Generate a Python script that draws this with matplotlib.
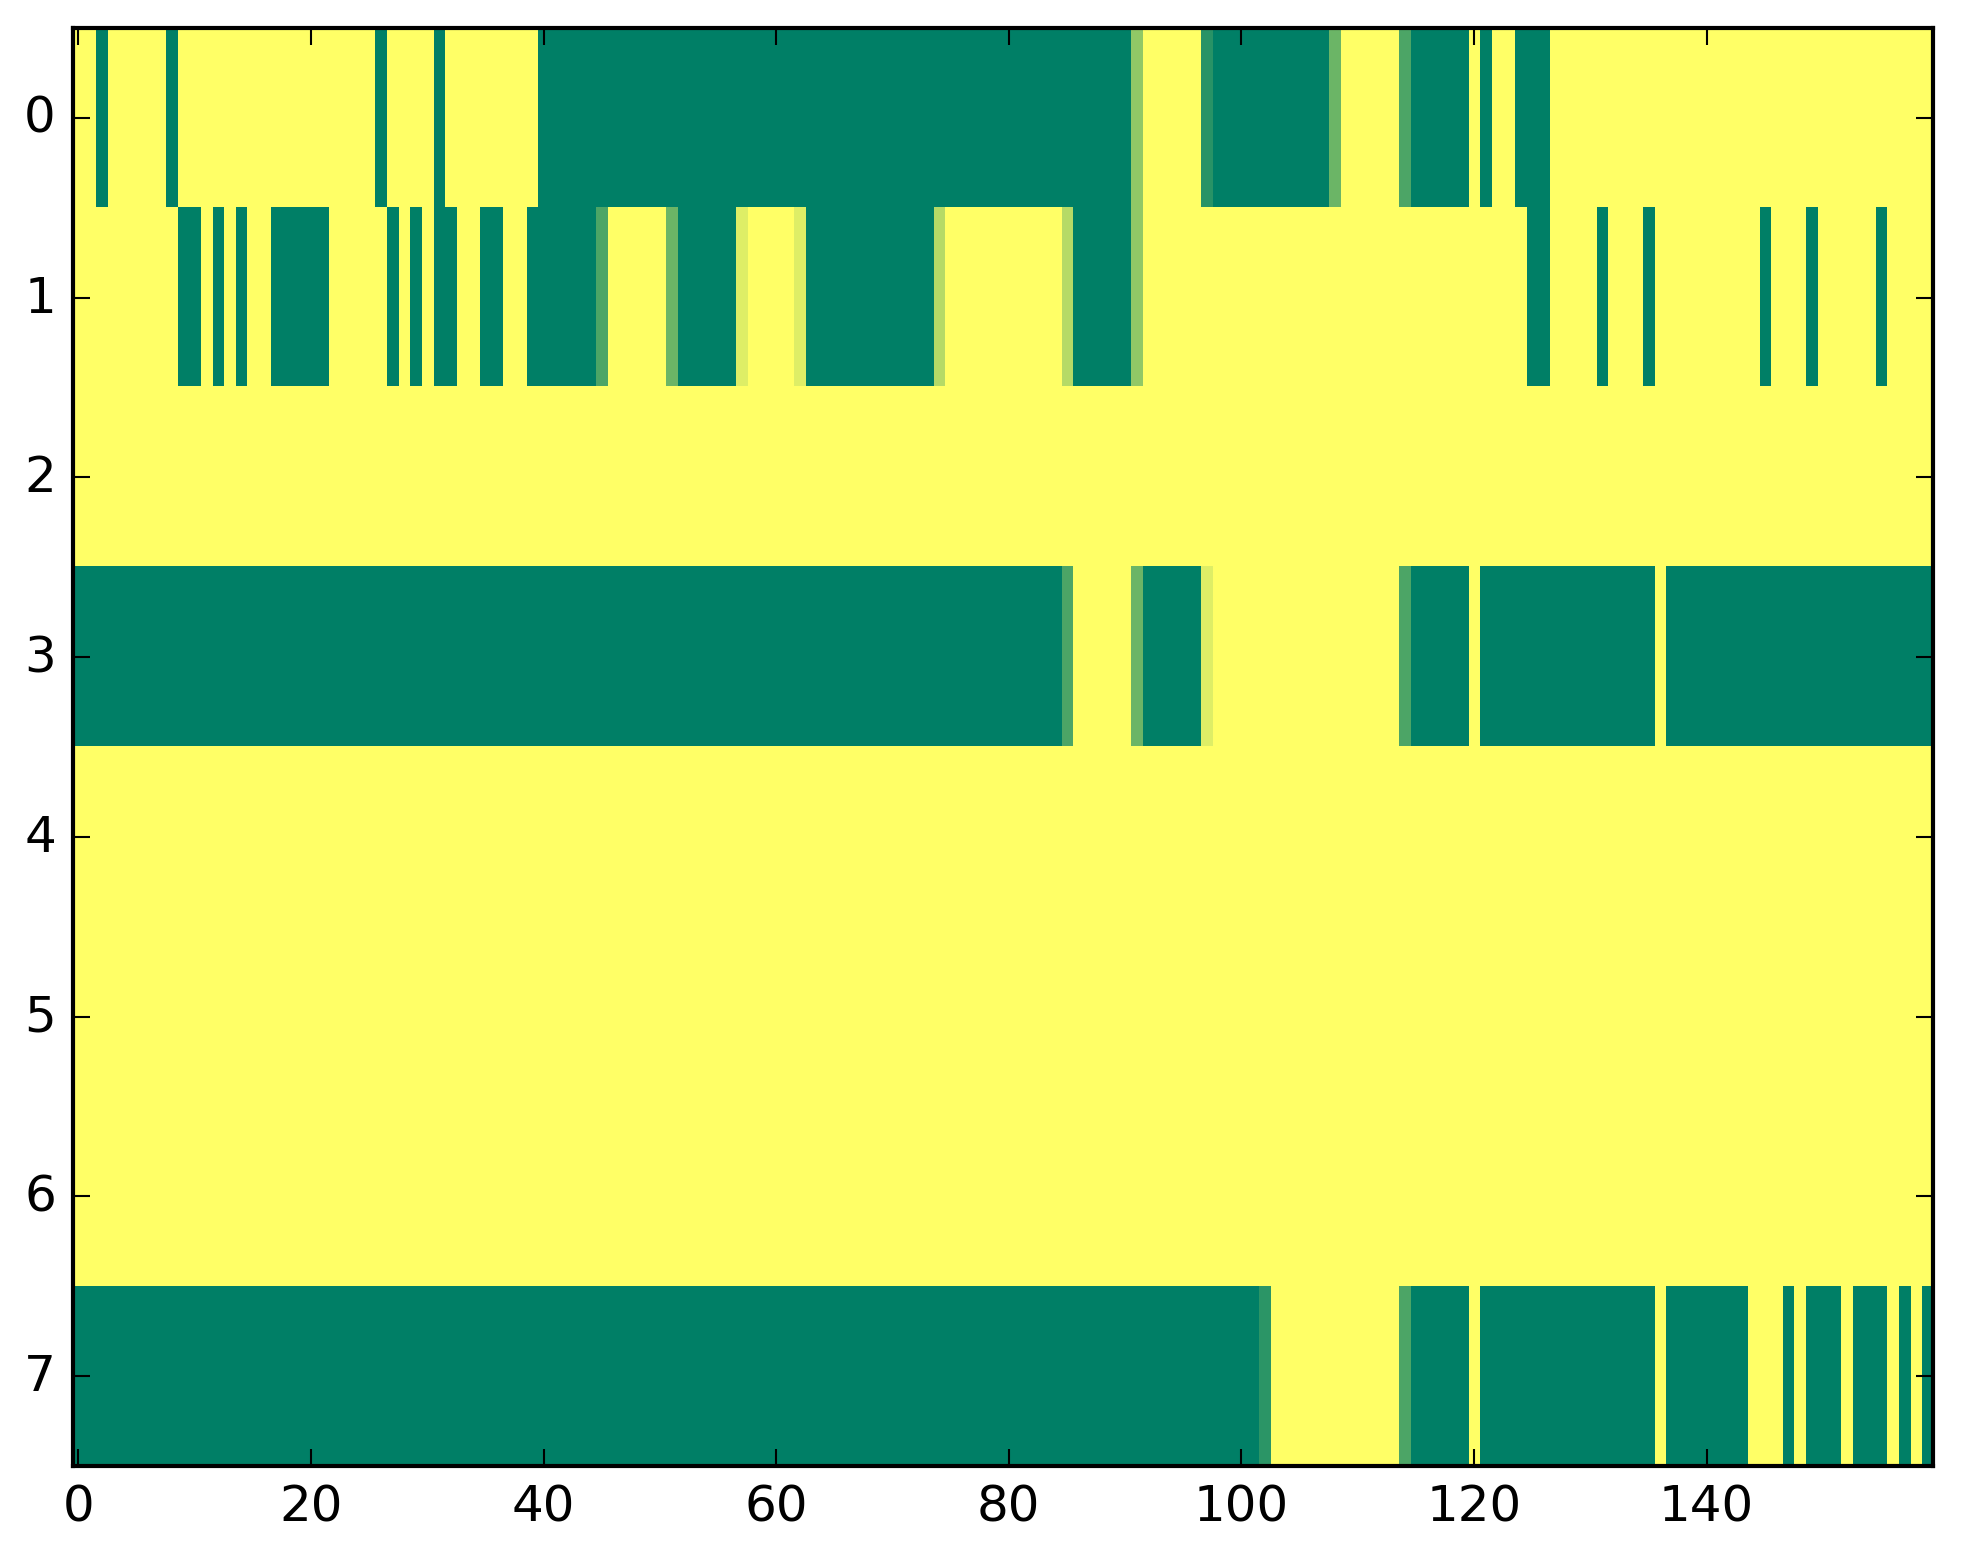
import numpy as np
import matplotlib
matplotlib.use("Agg")
import matplotlib.pyplot as plt

# --- Data: 8 rows x 160 columns, values in [0, 1] ---
row0 = [1, 1, 0, 1, 1, 1, 1, 1, 0, 1, 1, 1, 1, 1, 1, 1, 1, 1, 1, 1,
        1, 1, 1, 1, 1, 1, 0, 1, 1, 1, 1, 0, 1, 1, 1, 1, 1, 1, 1, 1,
        0, 0, 0, 0, 0, 0, 0, 0, 0, 0, 0, 0, 0, 0, 0, 0, 0, 0, 0, 0,
        0, 0, 0, 0, 0, 0, 0, 0, 0, 0, 0, 0, 0, 0, 0, 0, 0, 0, 0, 0,
        0, 0, 0, 0, 0, 0, 0, 0, 0, 0, 0, 0.57, 1, 1, 1, 1, 1, 0.16, 0, 0,
        0, 0, 0, 0, 0, 0, 0, 0, 0.42, 1, 1, 1, 1, 1, 0.3, 0, 0, 0, 0, 0,
        1, 0, 1, 1, 0, 0, 0, 1, 1, 1, 1, 1, 1, 1, 1, 1, 1, 1, 1, 1,
        1, 1, 1, 1, 1, 1, 1, 1, 1, 1, 1, 1, 1, 1, 1, 1, 1, 1, 1, 1]

row1 = [1, 1, 1, 1, 1, 1, 1, 1, 1, 0, 0, 1, 0, 1, 0, 1, 1, 0, 0, 0,
        0, 0, 1, 1, 1, 1, 1, 0, 1, 0, 1, 0, 0, 1, 1, 0, 0, 1, 1, 0,
        0, 0, 0, 0, 0, 0.3, 1, 1, 1, 1, 1, 0.42, 0, 0, 0, 0, 0, 0.87, 1, 1,
        1, 1, 0.87, 0, 0, 0, 0, 0, 0, 0, 0, 0, 0, 0, 0.71, 1, 1, 1, 1, 1,
        1, 1, 1, 1, 1, 0.71, 0, 0, 0, 0, 0, 0.57, 1, 1, 1, 1, 1, 1, 1, 1,
        1, 1, 1, 1, 1, 1, 1, 1, 1, 1, 1, 1, 1, 1, 1, 1, 1, 1, 1, 1,
        1, 1, 1, 1, 1, 0, 0, 1, 1, 1, 1, 0, 1, 1, 1, 0, 1, 1, 1, 1,
        1, 1, 1, 1, 1, 0, 1, 1, 1, 0, 1, 1, 1, 1, 1, 0, 1, 1, 1, 1]

row2 = [1] * 160

row3 = [0, 0, 0, 0, 0, 0, 0, 0, 0, 0, 0, 0, 0, 0, 0, 0, 0, 0, 0, 0,
        0, 0, 0, 0, 0, 0, 0, 0, 0, 0, 0, 0, 0, 0, 0, 0, 0, 0, 0, 0,
        0, 0, 0, 0, 0, 0, 0, 0, 0, 0, 0, 0, 0, 0, 0, 0, 0, 0, 0, 0,
        0, 0, 0, 0, 0, 0, 0, 0, 0, 0, 0, 0, 0, 0, 0, 0, 0, 0, 0, 0,
        0, 0, 0, 0, 0, 0.3, 1, 1, 1, 1, 1, 0.42, 0, 0, 0, 0, 0, 0.87, 1, 1,
        1, 1, 1, 1, 1, 1, 1, 1, 1, 1, 1, 1, 1, 1, 0.3, 0, 0, 0, 0, 0,
        1, 0, 0, 0, 0, 0, 0, 0, 0, 0, 0, 0, 0, 0, 0, 0, 1, 0, 0, 0,
        0, 0, 0, 0, 0, 0, 0, 0, 0, 0, 0, 0, 0, 0, 0, 0, 0, 0, 0, 0]

row4 = [1] * 160
row5 = [1] * 160
row6 = [1] * 160

row7 = [0, 0, 0, 0, 0, 0, 0, 0, 0, 0, 0, 0, 0, 0, 0, 0, 0, 0, 0, 0,
        0, 0, 0, 0, 0, 0, 0, 0, 0, 0, 0, 0, 0, 0, 0, 0, 0, 0, 0, 0,
        0, 0, 0, 0, 0, 0, 0, 0, 0, 0, 0, 0, 0, 0, 0, 0, 0, 0, 0, 0,
        0, 0, 0, 0, 0, 0, 0, 0, 0, 0, 0, 0, 0, 0, 0, 0, 0, 0, 0, 0,
        0, 0, 0, 0, 0, 0, 0, 0, 0, 0, 0, 0, 0, 0, 0, 0, 0, 0, 0, 0,
        0, 0, 0.17, 1, 1, 1, 1, 1, 1, 1, 1, 1, 1, 1, 0.3, 0, 0, 0, 0, 0,
        1, 0, 0, 0, 0, 0, 0, 0, 0, 0, 0, 0, 0, 0, 0, 0, 1, 0, 0, 0,
        0, 0, 0, 0, 1, 1, 1, 0, 1, 0, 0, 0, 1, 0, 0, 0, 1, 0, 1, 0]

data = np.array([row0, row1, row2, row3, row4, row5, row6, row7], dtype=float)

# --- Plot ---
plt.style.use("classic")
plt.rcParams["font.family"] = ["DejaVu Sans"]

dpi = 300
fig = plt.figure(figsize=(1963 / dpi, 1564 / dpi), dpi=dpi, facecolor="white")
ax = fig.add_axes([0.0370, 0.0620, 0.9479, 0.9195])

ax.imshow(data, cmap="summer", aspect="auto", interpolation="nearest",
          vmin=0, vmax=1)

ax.set_xticks([0, 20, 40, 60, 80, 100, 120, 140])
ax.set_yticks(range(8))
ax.tick_params(labelsize=12)

fig.savefig("out.png", dpi=dpi, facecolor="white")
